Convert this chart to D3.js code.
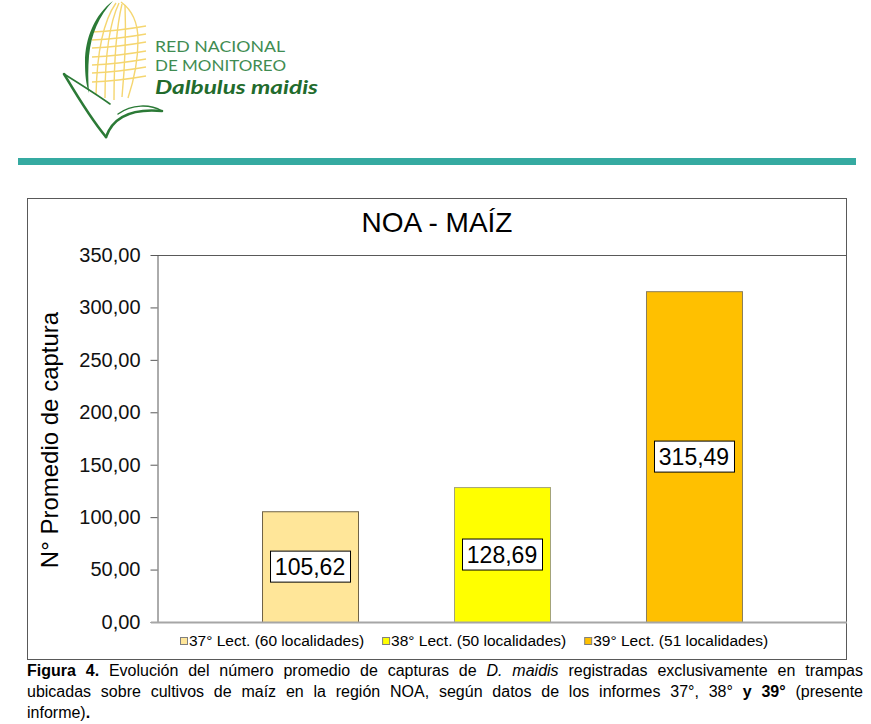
<!DOCTYPE html>
<html>
<head>
<meta charset="utf-8">
<script src="https://cdn.jsdelivr.net/npm/d3@7/dist/d3.min.js"></script>
<style>
  html, body { margin: 0; padding: 0; background: #fff; }
  svg { display: block; }
</style>
</head>
<body>
<svg id="chart" width="871" height="724"></svg>
<script>
// ---------- DATA ----------
const title = "NOA - MAÍZ";
const yAxisTitle = "N° Promedio de captura";
const categories = ["37° Lect. (60 localidades)", "38° Lect. (50 localidades)", "39° Lect. (51 localidades)"];
const values = [105.62, 128.69, 315.49];
const barColors = ["#FFE699", "#FFFF00", "#FFC000"];
const barStrokes = ["#6f6246", "#a3a37a", "#8a7d5c"];
const yTicks = [0, 50, 100, 150, 200, 250, 300, 350];
const logoLines = ["RED NACIONAL", "DE MONITOREO", "Dalbulus maidis"];
const captionLines = [
  [[["Figura", "b"]], [["4.", "b"]], [["Evolución"]], [["del"]], [["número"]], [["promedio"]], [["de"]], [["capturas"]], [["de"]], [["D.", "i"]], [["maidis", "i"]], [["registradas"]], [["exclusivamente"]], [["en"]], [["trampas"]]],
  [[["ubicadas"]], [["sobre"]], [["cultivos"]], [["de"]], [["maíz"]], [["en"]], [["la"]], [["región"]], [["NOA,"]], [["según"]], [["datos"]], [["de"]], [["los"]], [["informes"]], [["37°,"]], [["38°"]], [["y", "b"]], [["39°", "b"]], [["(presente"]]],
  [[["informe)"], [".", "b"]]]
];

// ---------- SETUP ----------
const svg = d3.select("#chart");
const FONT = "'Liberation Sans', Arial, Helvetica, sans-serif";
const locale = d3.formatLocale({decimal: ",", thousands: ".", grouping: [3], currency: ["", ""]});
const fmt = locale.format(".2f");

// ---------- LOGO ----------
const logo = svg.append("g");
const green = "#2b7a36";
const yellow = "#F5D670";
const yl = logo.append("g").attr("fill", "none").attr("stroke", yellow).attr("stroke-width", 1.4);
[32, 40, 48, 57, 65, 73, 82].forEach(y => {
  yl.append("path").attr("d", `M92,${y} Q118,${y - 1} 146,${y - 6}`);
});
yl.append("path").attr("d", "M116,3 C104,20 97,50 96,95");
yl.append("path").attr("d", "M119,3 C110,22 105,55 105,98");
yl.append("path").attr("d", "M122,4 C117,25 114,60 114,100");
yl.append("path").attr("d", "M125,5 C126,30 125,65 122,97");
yl.append("path").attr("d", "M121,2 C132,10 138,22 138,40 C138,60 134,80 128,98");
logo.append("path").attr("fill", green)
  .attr("d", "M113,1 C95,14 85,38 85,62 C85,75 86,84 89,93 C88,80 88,68 89,56 C91,34 99,16 113,1 Z");
const gl = logo.append("g").attr("fill", "none").attr("stroke", green).attr("stroke-linecap", "round");
gl.append("path").attr("stroke-width", 2.6).attr("d", "M64,74 C76,94 90,118 106,137");
gl.append("path").attr("stroke-width", 1.6).attr("d", "M64,74 C80,84 96,94 110,104");
gl.append("path").attr("stroke-width", 2.6).attr("d", "M106,137 C112,120 128,108 162,111");
gl.append("path").attr("stroke-width", 1.4).attr("d", "M118,114 C132,104 150,104 162,111");
const LOGOFONT = "Lato, 'Open Sans', sans-serif";
logo.append("text").attr("x", 155).attr("y", 52).text(logoLines[0])
  .attr("font-family", LOGOFONT).attr("font-size", 16).attr("fill", "#3f8c52")
  .attr("textLength", 130).attr("lengthAdjust", "spacingAndGlyphs");
logo.append("text").attr("x", 155).attr("y", 71).text(logoLines[1])
  .attr("font-family", LOGOFONT).attr("font-size", 16).attr("fill", "#3f8c52")
  .attr("textLength", 131).attr("lengthAdjust", "spacingAndGlyphs");
logo.append("text").attr("x", 155).attr("y", 94).text(logoLines[2])
  .attr("font-family", LOGOFONT).attr("font-size", 18.5).attr("font-weight", "bold")
  .attr("font-style", "italic").attr("fill", "#226b2c")
  .attr("textLength", 163).attr("lengthAdjust", "spacingAndGlyphs");

// teal separator
svg.append("rect").attr("x", 18).attr("y", 158).attr("width", 838).attr("height", 7).attr("fill", "#35aaa1");

// ---------- CHART FRAME ----------
svg.append("rect").attr("x", 27.5).attr("y", 198.5).attr("width", 819).attr("height", 461)
  .attr("fill", "#fff").attr("stroke", "#595959").attr("stroke-width", 1);

svg.append("text").attr("x", 437).attr("y", 232).attr("text-anchor", "middle")
  .attr("font-family", FONT).attr("font-size", 28).attr("fill", "#000").text(title);

// ---------- SCALES ----------
const plotL = 157, plotR = 847, plotT = 255, plotB = 622;
const x = d3.scaleBand().domain(categories).range([plotL, plotR]).paddingInner(0.5).paddingOuter(0.547);
const y = d3.scaleLinear().domain([0, 350]).range([plotB, plotT]);

svg.append("path").attr("d", `M${plotL},${plotT + 0.5}H${plotR - 0.5}V${plotB}`)
  .attr("fill", "none").attr("stroke", "#595959").attr("stroke-width", 1);

// bars
svg.append("g").selectAll("rect").data(values).join("rect")
  .attr("x", (d, i) => x(categories[i]) + 0.5)
  .attr("y", d => y(d) + 0.5)
  .attr("width", x.bandwidth())
  .attr("height", d => plotB - y(d))
  .attr("fill", (d, i) => barColors[i])
  .attr("stroke", (d, i) => barStrokes[i])
  .attr("stroke-width", 1);

// y axis
const yAxis = svg.append("g").attr("transform", `translate(${plotL + 0.5},0)`)
  .call(d3.axisLeft(y).tickValues(yTicks).tickFormat(fmt).tickSize(7).tickSizeOuter(0).tickPadding(10));
yAxis.selectAll("path, line").attr("stroke", "#595959");
yAxis.selectAll("text").attr("font-family", FONT).attr("font-size", 20).attr("fill", "#111");

// x baseline
svg.append("line").attr("x1", plotL - 6).attr("x2", plotR).attr("y1", plotB + 0.5).attr("y2", plotB + 0.5)
  .attr("stroke", "#a6a6a6").attr("stroke-width", 2);

// y axis title
svg.append("text").attr("transform", `translate(58,440) rotate(-90)`).attr("text-anchor", "middle")
  .attr("font-family", FONT).attr("font-size", 24).attr("fill", "#000").text(yAxisTitle);

// value labels
const lbl = svg.append("g").selectAll("g").data(values).join("g")
  .attr("transform", (d, i) => `translate(${x(categories[i]) + x.bandwidth() / 2},${y(d / 2)})`);
lbl.append("text").attr("text-anchor", "middle").attr("dy", "0.36em")
  .attr("font-family", FONT).attr("font-size", 23).attr("fill", "#000").text(d => fmt(d));
lbl.each(function () {
  const g = d3.select(this);
  const bb = g.select("text").node().getBBox();
  g.insert("rect", "text").attr("x", Math.round(bb.x - 5) + 0.5).attr("y", -15.5)
    .attr("width", Math.round(bb.width + 10)).attr("height", 31)
    .attr("fill", "#fff").attr("stroke", "#000").attr("stroke-width", 1);
});

// legend
const legend = svg.append("g");
let lx = 180;
categories.forEach((c, i) => {
  legend.append("rect").attr("x", lx + 0.5).attr("y", 637.5).attr("width", 7).attr("height", 7)
    .attr("fill", barColors[i]).attr("stroke", "#7f7f7f").attr("stroke-width", 1);
  const t = legend.append("text").attr("x", lx + 9).attr("y", 646)
    .attr("font-family", FONT).attr("font-size", 15.5).attr("fill", "#000").text(c);
  lx += 9 + t.node().getComputedTextLength() + 18;
});

// ---------- CAPTION ----------
const CAPFONT = "'Liberation Sans Narrow', 'Arial Narrow', 'Liberation Sans', Arial, sans-serif";
const capL = 27, capR = 863, capSize = 16;
const baselines = [676, 697, 718];
captionLines.forEach((words, li) => {
  const g = svg.append("g");
  const t = g.append("text").attr("y", baselines[li]).attr("font-family", CAPFONT)
    .attr("font-size", capSize).attr("fill", "#000");
  const widths = [];
  words.forEach(runs => {
    let w = 0;
    runs.forEach((r, ri) => {
      const ts = t.append("tspan").text(r[0])
        .attr("font-weight", r[1] === "b" ? "bold" : "normal")
        .attr("font-style", r[1] === "i" ? "italic" : "normal");
      ts.attr("class", ri === 0 ? "w0" : "wn");
      w += ts.node().getComputedTextLength();
    });
    widths.push(w);
  });
  const spaceW = capSize * 0.25;
  const total = d3.sum(widths);
  const justify = li < captionLines.length - 1;
  let gap = spaceW, scale = 1;
  if (justify) {
    gap = (capR - capL - total) / (words.length - 1);
    if (gap < spaceW * 0.8) {
      gap = spaceW;
      scale = (capR - capL) / (total + gap * (words.length - 1));
    }
  }
  let cx = capL / scale;
  const firsts = t.selectAll("tspan.w0").nodes();
  firsts.forEach((n, wi) => {
    d3.select(n).attr("x", cx);
    cx += widths[wi] + gap;
  });
  if (scale !== 1) g.attr("transform", `scale(${scale},1)`);
});
</script>
</body>
</html>
